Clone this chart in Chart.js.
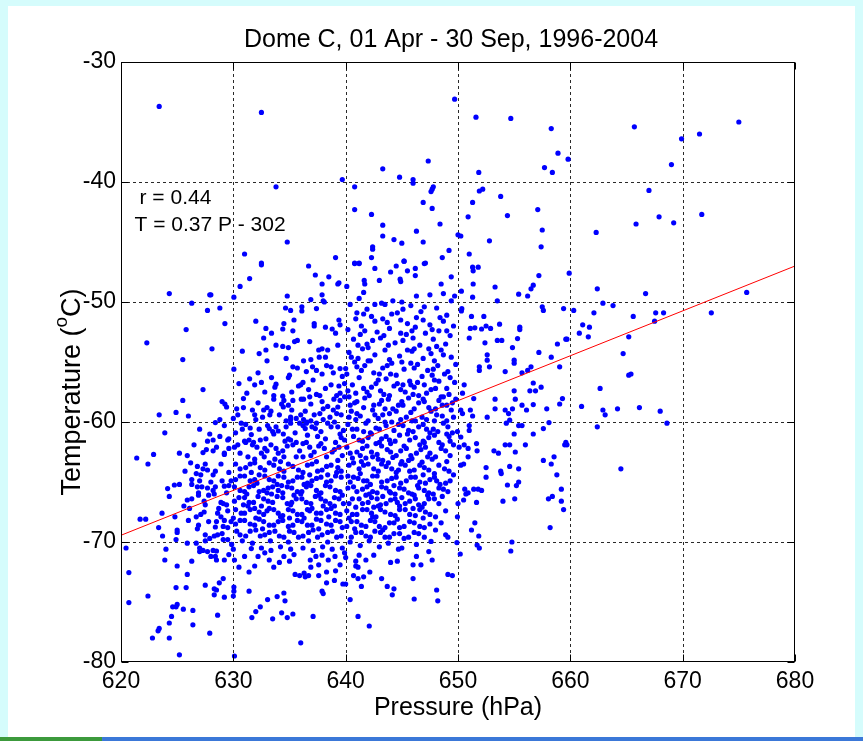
<!DOCTYPE html>
<html><head><meta charset="utf-8">
<script src="https://cdn.jsdelivr.net/npm/chart.js@4.4.1/dist/chart.umd.min.js"></script>
<style>html,body{margin:0;padding:0;background:#d5fcfc;}canvas{display:block;}</style>
</head><body>
<canvas id="c" width="863" height="741"></canvas>
<script>
// ---------- DATA ----------
const chartTitle = 'Dome C, 01 Apr - 30 Sep, 1996-2004';
const xAxisTitle = 'Pressure (hPa)';
const yAxisTitle = ['Temperature (', 'o', 'C)'];
const xTicks = [620, 630, 640, 650, 660, 670, 680];
const yTicks = [-80, -70, -60, -50, -40, -30];
const fitSlope = 0.374, fitIntercept = -301.32, fitRange = [620, 680];
const statLabels = ['r = 0.44', 'T = 0.37 P - 302'];

// [pressure hPa, temperature °C]
const outerPoints = [[623.4,-33.7],[632.5,-34.2],[633.8,-40.4],[639.7,-39.8],[634.8,-45.0],[631.0,-46.0],[639.1,-46.3],[632.5,-46.75],
[649.7,-33.1],[651.6,-34.6],[654.7,-34.7],[658.3,-35.55],[658.9,-37.6],[659.8,-38.1],[657.7,-38.8],[658.4,-39.2],[651.85,-39.2],[647.35,-38.25],[643.3,-38.9],[644.8,-39.6],[646.0,-39.8],[646.0,-40.1],[640.8,-40.4],[647.8,-40.4],[647.7,-40.6],[647.6,-40.8],[646.9,-41.7],[647.7,-42.2],[640.8,-42.3],[642.3,-42.7],[643.3,-43.6],[648.4,-43.5],[646.3,-44.1],[643.3,-44.5],[644.3,-44.8],[645.0,-45.1],[646.9,-45.0],[642.4,-45.4],[642.4,-45.6],[642.3,-46.3],[649.2,-45.7],[648.6,-46.3],[645.2,-46.6],[640.8,-46.75],[641.2,-46.75],[647.1,-46.75],[650.0,-44.4],[650.25,-44.5],[651.3,-41.7],[651.9,-40.75],[652.2,-40.6],[653.8,-41.2],[650.9,-42.9],[654.4,-42.8],[652.8,-44.9],[651.0,-46.0],[657.1,-42.3],[657.5,-44.0],[657.4,-45.4],
[665.7,-35.4],[669.0,-38.55],[669.9,-36.4],[671.5,-36.0],[675.0,-35.0],[667.0,-40.7],[662.3,-44.2],[665.85,-43.5],[667.9,-42.9],[669.2,-43.4],[671.7,-42.7]];

const rightPoints = [[659.9,-47.6],[662.4,-48.9],[666.7,-49.3],[675.7,-49.2],[672.55,-50.9],[662.9,-50.1],[663.8,-50.3],[660.3,-50.7],[662.1,-50.9],[667.6,-50.9],[668.3,-50.9],[667.5,-51.6],[665.6,-51.2],[661.1,-51.9],[661.7,-52.1],[660.8,-52.6],[661.6,-52.9],[659.7,-53.1],[665.2,-52.9],[664.7,-54.3],[665.2,-56.1],[665.4,-56.0],[662.65,-57.2],[661.0,-58.7],[662.9,-59.0],[663.1,-59.4],[664.2,-58.9],[666.15,-58.8],[668.0,-59.1],[668.6,-60.1],[662.4,-60.4],[659.7,-61.9],[664.5,-63.9],
[650.34,-50.56],[650.3,-50.75],[651.2,-51.2],[652.3,-51.2],[651.1,-52.2],[651.5,-52.15],[652.1,-52.25],[652.5,-52.0],[653.7,-51.85],[652.9,-52.2],[651.0,-53.0],[652.4,-53.4],[653.5,-53.2],[653.9,-53.2],[655.5,-52.1],[655.5,-52.3],[655.3,-53.05],[657.5,-50.4],[657.6,-50.7],[659.4,-50.55],[658.85,-53.5],[659.6,-53.1],[654.85,-53.8],[652.6,-54.4],[652.6,-54.85],[651.9,-55.4],[651.9,-55.7],[652.8,-55.4],[654.2,-55.8],[655.0,-54.85],[655.0,-55.1],[657.2,-54.2],[658.3,-54.6],[656.5,-55.4],[655.7,-55.9],[656.2,-55.7],[659.05,-55.4],[650.55,-56.9],[650.4,-57.6],[651.4,-58.05],[655.0,-57.4],[655.1,-58.1],[656.7,-56.75],[656.9,-57.4],[656.4,-57.4],[657.4,-57.1],[659.3,-58.05],[659.05,-58.5],[653.3,-58.1],[653.3,-58.9],[654.2,-59.0],[654.5,-59.3],[654.6,-59.85],[654.3,-60.1],[654.85,-58.9],[655.7,-58.6],[656.1,-59.0],[657.9,-58.9],[656.7,-58.55],[652.6,-59.6],[651.1,-59.0],[651.3,-59.5],[650.25,-59.0],[650.4,-59.3],[651.0,-60.3],[651.0,-60.7],[649.95,-60.8],[650.25,-61.25],[650.55,-61.9],[650.9,-62.2],[651.65,-61.8],[651.7,-62.4],[650.9,-62.9],[653.2,-62.4],[653.6,-62.6],[654.2,-61.9],[654.6,-61.9],[655.0,-61.0],[655.4,-60.3],[655.7,-60.3],[656.0,-61.9],[656.7,-61.0],[657.6,-60.55],[658.1,-60.05],[658.55,-62.9],[659.6,-61.7],[659.5,-61.9],[657.6,-63.2],[655.1,-62.5],[650.1,-62.1],
[640.8,-46.8],[641.2,-46.8],[642.6,-47.2],[644.5,-47.0],[645.2,-46.6],[644.0,-47.5],[645.5,-47.4],[646.2,-47.2],[646.2,-47.8],[647.0,-46.8],[641.65,-48.2],[641.7,-48.5],[643.0,-48.2],[644.85,-48.1],[644.9,-48.3],[640.1,-48.7],[641.6,-49.2],[641.2,-49.7],[647.5,-49.4],[648.5,-48.5],[648.7,-49.3],[649.4,-47.9],[649.4,-49.9],[649.7,-49.5],[650.3,-49.1],[651.3,-47.1],[651.8,-47.1],[651.35,-47.4],[651.35,-48.5],[651.3,-49.6],[653.3,-48.75],[653.5,-49.9],[655.4,-49.35],[656.2,-49.5],[656.5,-48.9],[656.7,-48.6],[657.2,-47.8],[644.2,-49.9],[645.0,-50.0],[642.6,-50.2],[643.5,-50.2],[646.3,-49.5]];

const lowerRightPoints = [[650.25,-63.6],[650.5,-63.5],[652.5,-63.8],[652.5,-64.6],[653.8,-64.1],[653.85,-64.3],[654.6,-63.7],[655.4,-63.9],[658.3,-63.5],[658.8,-64.4],[654.4,-65.25],[655.2,-65.3],[655.4,-65.0],[659.2,-65.6],[658.4,-66.2],[658.05,-66.4],[659.2,-66.6],[659.4,-67.3],[655.05,-66.4],[654.0,-66.6],[658.2,-68.8],[650.6,-65.6],[650.7,-66.0],[650.5,-66.5],[650.9,-65.9],[651.4,-65.6],[651.8,-65.6],[652.1,-65.7],[651.65,-66.7],[650.0,-66.8],[649.95,-67.9],[651.5,-68.4],[651.2,-69.0],[651.85,-69.5],[651.7,-70.25],[651.9,-70.5],[654.8,-70.0],[654.7,-70.75],[650.2,-71.0],[649.9,-70.05],
[640.0,-71.3],[640.9,-71.6],[641.2,-71.1],[641.8,-71.5],[642.5,-71.1],[640.9,-72.0],[641.1,-72.1],[642.15,-72.5],[640.7,-72.8],[641.1,-73.05],[641.6,-72.9],[641.4,-73.7],[640.0,-73.5],[640.4,-74.8],[641.1,-76.2],[642.1,-77.0],[643.2,-73.05],[643.7,-73.7],[644.3,-73.9],[644.15,-74.4],[644.0,-71.7],[644.6,-71.6],[646.3,-71.2],[646.0,-71.9],[646.7,-71.9],[646.0,-73.05],[646.1,-74.75],[644.7,-70.6],[647.4,-70.8],[647.7,-71.5],[648.1,-74.0],[648.2,-74.9],[649.1,-72.7],[649.5,-72.8],[648.9,-69.4],[649.1,-69.6]];

const lowerLeftPoints = [[620.45,-70.5],[620.7,-72.55],[620.7,-75.05],[622.4,-74.5],[622.8,-78.0],[623.3,-77.4],[623.4,-77.2],[624.3,-78.0],[624.3,-76.75],[624.5,-76.2],[624.6,-75.4],[624.9,-75.4],[625.0,-75.2],[625.2,-79.4],[623.9,-71.5],[624.0,-70.6],[625.0,-72.0],[624.9,-73.8],[625.8,-73.8],[625.9,-72.7],[625.55,-75.6],[626.4,-75.7],[626.4,-76.9],[625.9,-70.1],[626.3,-71.6],[627.9,-77.6],[628.6,-76.1],[627.5,-73.6],[628.3,-73.9],[628.3,-74.4],[628.5,-74.0],[628.75,-73.4],[629.2,-74.6],[629.1,-73.05],[630.0,-74.5],[630.05,-73.75],[630.05,-74.1],[630.1,-79.5],[631.4,-74.1],[632.4,-75.4],[632.0,-75.8],[631.65,-76.3],[633.05,-74.8],[633.5,-76.4],[633.9,-74.55],[634.3,-75.9],[634.5,-74.25],[634.6,-74.9],[634.8,-76.3],[635.3,-76.0],[636.0,-78.4],[637.1,-76.2],[637.9,-74.1],[638.0,-74.3],[638.3,-73.4],[639.0,-73.2],[636.9,-72.1],[637.6,-71.9],[637.6,-72.8],[636.7,-72.8],[638.3,-72.5],[639.1,-72.4],[639.75,-73.5],[635.9,-72.8],[636.4,-72.9],[635.5,-72.7],[629.2,-71.5],[627.3,-70.7],[627.7,-70.8],[628.4,-71.2],[628.5,-71.5],[628.5,-70.75],[629.6,-71.05],[630.0,-70.6],[629.85,-70.2],[629.5,-69.8],[629.1,-69.8],[628.3,-69.5],[628.6,-69.4],[627.5,-69.4],[627.0,-70.5],[624.9,-69.8],[625.0,-69.0],[625.0,-69.2],[623.7,-69.5],[623.35,-68.8],[621.7,-68.1],[622.2,-68.1],[623.65,-67.6],[624.8,-67.9],[624.15,-65.55],[624.3,-66.2],[624.75,-65.25],[625.2,-65.2],[622.4,-63.5],[626.3,-65.2],[626.3,-64.8],[625.9,-66.5],[626.3,-66.4],[626.7,-67.9],[626.8,-68.9],[626.9,-68.6],[627.4,-67.5],[627.8,-68.3],[628.4,-68.75],[628.5,-68.3],[628.6,-67.6],[629.1,-66.8],[628.9,-66.7],[629.2,-68.2],[629.8,-68.3],[630.0,-68.0],[627.4,-66.6],[627.5,-66.9],[626.9,-65.9],[626.9,-66.1],[626.8,-65.4],[627.2,-65.4],[627.0,-64.9],[627.1,-64.4],[626.8,-63.7],[627.5,-63.5],[627.8,-66.1],[627.7,-65.5],[628.2,-64.4],[628.4,-64.1],[628.4,-65.4],[629.2,-65.35],[629.6,-65.3],[628.7,-67.2],[626.7,-64.3],[627.7,-64.0],[628.2,-65.7],[628.3,-66.0],[629.0,-64.9],[629.8,-64.9],[629.4,-66.9],[629.5,-67.4],[629.1,-68.7],[629.0,-69.3],[628.2,-70.7],[628.0,-71.2],[627.0,-70.8],[627.5,-69.9],[626.7,-70.1],
[630.1,-71.5],[630.5,-72.1],[631.0,-71.2],[631.4,-72.5],[631.9,-72.0],[632.2,-71.2],[632.8,-70.9],[633.2,-71.5],[633.6,-72.1],[634.1,-71.7],[634.5,-71.2],[635.0,-71.6],[635.4,-71.05],[636.3,-72.6],[636.85,-71.5],[637.35,-71.2],[637.9,-71.1],[638.45,-71.5],[639.05,-71.2],[639.5,-71.9],[639.9,-70.9],[631.6,-70.55],[632.5,-70.5],[633.35,-70.7],[634.2,-70.4],[635.1,-70.6],[636.2,-70.5],[637.1,-70.7],[637.95,-70.4],[638.8,-70.6],[639.7,-70.5]];

const upperLeftPoints = [[632.5,-46.9],[636.7,-47.0],[637.3,-47.75],[638.5,-47.9],[639.3,-48.5],[639.4,-48.4],[637.9,-48.5],[631.45,-48.05],[630.6,-48.7],[624.3,-49.3],[627.9,-49.4],[628.0,-49.4],[630.05,-49.6],[634.8,-49.5],[637.9,-49.4],[638.0,-49.9],[638.1,-50.0],[636.9,-49.8],[626.3,-50.1],[627.7,-50.7],[628.8,-50.5],[634.65,-50.5],[635.1,-50.7],[636.1,-50.4],[636.1,-50.75],[637.4,-50.55],[629.25,-51.8],[625.8,-52.3],[632.0,-51.6],[635.4,-51.5],[637.2,-51.8],[637.2,-52.0],[634.5,-51.8],[639.4,-51.5],[639.5,-51.9],[638.2,-52.1],[638.8,-52.25],[639.1,-52.6],[632.9,-52.2],[633.4,-52.6],[634.4,-52.25],[635.3,-52.4],[632.7,-53.0],[622.3,-53.4],[628.1,-53.9],[630.8,-54.1],[633.8,-53.6],[634.4,-53.7],[634.9,-53.8],[635.45,-53.3],[635.7,-53.2],[636.8,-53.3],[632.9,-54.0],[632.3,-54.3],[637.6,-54.0],[637.9,-53.9],[638.4,-54.0],[639.3,-53.6],[625.5,-54.8],[633.0,-54.9],[634.7,-54.7],[636.25,-54.9],[636.9,-54.8],[637.65,-54.6],[638.2,-54.6],[635.3,-55.4],[635.7,-55.5],[637.05,-55.4],[637.4,-55.7],[638.3,-55.3],[638.7,-55.4],[639.5,-55.55],[640.0,-55.55],[630.05,-55.6],[632.2,-55.9],[636.5,-55.8],[631.45,-56.4],[632.5,-56.7],[631.9,-56.9],[633.8,-56.85],[633.7,-57.1],[636.2,-56.7],[635.8,-57.0],[636.0,-56.9],[637.1,-56.5],[638.7,-56.9],[639.4,-57.0],[639.9,-56.8],[639.7,-56.2],[627.3,-57.3],[631.2,-57.6],[630.9,-58.05],[634.4,-57.85],[634.5,-58.2],[634.3,-58.5],[633.6,-57.8],[633.6,-58.1],[635.2,-57.5],[635.3,-58.2],[636.05,-58.1],[636.25,-58.1],[636.8,-57.9],[637.4,-57.7],[637.7,-57.8],[638.95,-58.1],[639.2,-57.8],[639.5,-57.6],[639.9,-57.9],[625.5,-58.2],[629.0,-58.3],[629.25,-58.5],[629.4,-58.75],[623.4,-59.4],[624.9,-59.2],[626.0,-59.5],[630.9,-58.8],[631.7,-59.0],[631.9,-59.4],[632.7,-59.0],[633.35,-59.1],[633.25,-59.4],[634.45,-58.75],[635.2,-59.0],[635.6,-59.7],[635.1,-59.6],[636.0,-59.4],[636.25,-59.8],[636.5,-60.1],[637.2,-59.4],[637.7,-59.3],[638.4,-58.7],[639.3,-58.75],[639.5,-58.2],[639.2,-59.3],[639.6,-59.4],[628.4,-60.05],[628.8,-59.8],[629.2,-60.3],[623.9,-60.9],[627.0,-60.6],[630.0,-59.7],[630.4,-59.4],[630.7,-60.1],[631.1,-60.2],[631.6,-61.05],[632.3,-60.6],[632.4,-61.5],[631.8,-61.7],[633.05,-60.3],[633.2,-60.55],[633.8,-60.4],[634.0,-60.75],[633.6,-61.0],[634.45,-61.0],[634.7,-60.4],[635.1,-59.8],[635.1,-60.1],[635.9,-60.1],[636.2,-60.3],[636.4,-60.55],[636.55,-60.0],[637.4,-60.1],[637.3,-60.55],[638.4,-60.1],[639.0,-60.0],[639.3,-60.4],[639.5,-61.0],[631.0,-61.6],[631.1,-61.7],[630.4,-61.9],[630.1,-62.1],[629.6,-61.4],[629.5,-61.5],[627.7,-61.6],[627.3,-62.55],[627.6,-62.3],[628.2,-62.4],[628.5,-62.1],[629.2,-62.7],[621.4,-63.0],[622.9,-62.7],[625.2,-62.6],[625.9,-62.8],[633.35,-61.9],[633.8,-62.2],[634.0,-62.6],[634.4,-62.4],[634.5,-62.9],[635.1,-61.5],[635.3,-61.9],[635.6,-61.7],[635.9,-62.4],[636.2,-62.9],[636.5,-61.7],[636.8,-62.1],[636.9,-62.8],[637.5,-61.2],[637.8,-61.8],[638.1,-62.2],[638.3,-62.9],[638.7,-60.4],[639.1,-61.7],[639.4,-62.1],[639.7,-62.8],[631.4,-61.5],[631.7,-61.9],[632.1,-62.1],[632.5,-62.6],[632.75,-62.9],[628.2,-61.5],[629.2,-62.6]];

const coreUpperPoints = [[640.4,-50.2],[641.9,-50.6],[643.2,-50.1],[644.6,-50.9],[645.8,-50.3],[646.7,-50.8],[648.1,-50.5],[649.0,-51.1],
[640.9,-51.4],[642.3,-51.2],[643.7,-51.7],[644.9,-51.5],[646.3,-51.3],[647.5,-51.9],[648.7,-51.6],[649.6,-52.0],
[640.2,-52.3],[641.4,-52.0],[642.8,-52.5],[643.9,-52.2],[645.4,-52.7],[646.2,-52.1],[647.1,-52.6],[648.3,-52.4],[649.3,-52.8],
[640.7,-53.1],[641.9,-53.5],[643.1,-53.0],[644.4,-53.4],[645.1,-53.2],[646.6,-53.6],[647.8,-53.1],[648.9,-53.5],
[640.3,-54.2],[641.5,-53.9],[642.6,-54.4],[643.5,-54.0],[644.8,-54.5],[645.9,-54.1],[646.9,-54.7],[647.6,-54.3],[648.5,-54.0],[649.4,-54.6],
[640.8,-55.0],[641.7,-55.3],[642.2,-54.9],[643.3,-55.5],[644.1,-55.1],[645.2,-55.6],[646.4,-55.2],[647.3,-55.7],[648.2,-55.3],[649.1,-55.8],
[640.1,-56.0],[641.2,-56.3],[642.5,-55.9],[643.6,-56.4],[644.5,-56.1],[645.7,-56.6],[646.8,-56.2],[647.9,-56.5],[648.8,-56.0],[649.7,-56.7],
[640.6,-56.9],[641.6,-57.2],[642.7,-56.8],[643.1,-57.4],[644.3,-57.0],[645.3,-57.5],[646.1,-57.1],[647.2,-57.6],[648.0,-57.2],[649.2,-57.7],
[640.3,-57.9],[641.0,-58.3],[642.1,-57.8],[643.0,-58.5],[643.8,-58.1],[644.7,-58.6],[645.6,-58.0],[646.5,-58.4],[647.4,-58.8],[648.3,-58.2],[649.0,-58.6],[649.8,-58.1],
[640.5,-59.1],[641.3,-59.5],[642.4,-59.0],[642.9,-59.7],[643.9,-59.3],[644.9,-59.8],[645.8,-59.2],[646.8,-59.6],[647.6,-59.1],[648.6,-59.5],[649.4,-59.0],
[640.2,-60.2],[641.0,-60.6],[641.8,-60.1],[642.7,-60.5],[643.5,-60.0],[644.3,-60.7],[645.1,-60.3],[646.0,-60.8],[646.9,-60.2],[647.8,-60.6],[648.7,-60.1],[649.5,-60.9],
[640.7,-61.2],[641.5,-61.6],[642.3,-61.0],[643.2,-61.4],[644.0,-61.8],[644.8,-61.1],[645.7,-61.5],[646.6,-61.9],[647.4,-61.3],[648.3,-61.7],[649.2,-61.2],
[640.1,-62.1],[641.0,-62.5],[641.9,-62.0],[642.8,-62.7],[643.7,-62.3],[644.5,-62.8],[645.4,-62.2],[646.3,-62.6],[647.1,-62.1],[648.0,-62.9],[648.9,-62.4],
[640.6,-63.0],[641.4,-63.3],[642.4,-62.9],[643.3,-63.2],[644.2,-62.95],[645.0,-63.3],[645.9,-63.05],[646.8,-63.35],[647.7,-63.1],
[641.1,-54.7],[643.0,-56.0],[645.5,-54.0],[647.0,-56.9],[644.2,-58.9],[642.0,-61.3],[646.2,-59.9],[648.5,-57.9],[641.7,-58.0],[643.6,-60.3],[645.2,-62.0],[647.5,-60.9],[649.3,-61.6],[640.9,-59.8],[642.9,-63.1],[646.5,-57.8],[644.6,-56.8],[648.1,-53.7],[642.0,-53.8],[640.4,-58.6],
[641.0,-50.9],[642.6,-51.6],[644.1,-51.0],[645.5,-51.8],[647.0,-50.4],[648.4,-51.3],[641.3,-52.7],[642.4,-53.2],[644.9,-52.6],[646.0,-53.0],[647.4,-53.9],[649.0,-52.4],[640.5,-54.6],[642.0,-54.9],[643.9,-54.8],[645.0,-55.0],[646.1,-55.5],[647.9,-54.9],[649.8,-55.2],[641.4,-55.7],[642.9,-56.5],[644.0,-56.0],[645.1,-56.9],[646.4,-56.7],[648.3,-56.6],[649.3,-56.3],[640.2,-57.4],[641.9,-57.5],[643.4,-57.7],[644.9,-57.3],[646.0,-57.7],[647.6,-57.3],[648.7,-57.9],[640.8,-58.4],[642.5,-58.6],[643.5,-58.9],[645.1,-58.6],[646.1,-58.9],[647.0,-58.3],[648.0,-58.9],[649.5,-58.4],[641.0,-59.3],[642.0,-59.9],[643.3,-59.4],[644.5,-59.1],[645.4,-59.6],[647.2,-59.8],[648.1,-59.4],[649.0,-59.9],[640.6,-60.6],[642.2,-60.9],[643.0,-60.6],[644.7,-60.2],[645.6,-60.7],[646.5,-60.4],[648.2,-60.8],[649.1,-60.4],[641.2,-61.5],[642.7,-61.8],[643.6,-61.2],[644.4,-61.6],[646.2,-61.3],[647.0,-61.7],[647.9,-61.1],[649.6,-61.9],[640.4,-62.6],[641.5,-62.2],[642.3,-62.5],[643.2,-62.0],[644.0,-62.5],[645.8,-62.8],[646.7,-62.3],[647.5,-62.6],[648.5,-62.2],[649.3,-62.8]];

const coreLowerMidPoints = [[640.3,-63.6],[641.2,-63.9],[642.0,-63.5],[642.9,-64.1],[643.6,-63.7],[644.5,-64.2],[645.3,-63.6],[646.1,-64.0],[647.0,-63.8],[647.9,-64.3],[648.8,-63.9],[649.6,-64.4],
[640.7,-64.6],[641.6,-64.9],[642.4,-64.5],[643.2,-65.0],[644.1,-64.7],[644.9,-65.1],[645.8,-64.6],[646.6,-65.0],[647.5,-64.8],[648.4,-65.2],[649.3,-64.9],
[640.2,-65.5],[641.0,-65.8],[641.9,-65.4],[642.8,-65.9],[643.6,-65.5],[644.4,-66.0],[645.2,-65.6],[646.1,-66.1],[647.0,-65.7],[647.8,-66.0],[648.7,-65.6],
[640.6,-66.4],[641.5,-66.8],[642.3,-66.3],[643.1,-66.9],[644.0,-66.5],[644.8,-67.0],[645.7,-66.6],[646.5,-66.9],[647.4,-66.4],[648.3,-66.8],
[640.1,-67.4],[641.0,-67.7],[641.9,-67.3],[642.7,-67.9],[643.5,-67.5],[644.4,-67.8],[645.3,-67.3],[646.2,-67.8],[647.1,-67.5],[648.0,-67.9],[648.9,-67.4],
[640.5,-68.3],[641.4,-68.6],[642.2,-68.2],[643.0,-68.7],[643.9,-68.4],[644.8,-68.8],[645.7,-68.3],[646.6,-68.7],[647.5,-68.5],
[640.9,-69.2],[641.8,-69.5],[642.6,-69.1],[643.5,-69.6],[644.3,-69.3],[645.2,-69.7],[646.1,-69.2],[647.0,-69.6],[648.0,-69.0],
[640.4,-70.0],[641.3,-70.3],[642.1,-69.9],[643.0,-70.4],[643.8,-70.1],[645.0,-70.5],[646.3,-70.2],[647.6,-69.95],
[641.3,-64.3],[643.9,-65.8],[646.0,-67.2],[642.5,-67.1],[645.0,-66.3],[647.3,-66.1],[640.8,-68.9],[643.3,-69.0],[648.5,-68.4],[644.7,-64.0],[646.9,-64.4],[642.1,-66.0],
[640.7,-63.4],[641.6,-63.6],[642.5,-63.9],[643.2,-63.5],[644.1,-63.9],[644.9,-63.5],[645.7,-64.1],[646.6,-63.6],[647.4,-64.0],[648.3,-63.6],[649.2,-64.1],[640.2,-64.5],[641.1,-64.7],[641.9,-64.9],[642.8,-64.5],[643.7,-64.9],[644.5,-64.6],[645.4,-64.9],[646.2,-64.6],[647.1,-65.1],[647.9,-64.6],[648.9,-65.1],[640.7,-65.4],[641.5,-65.6],[642.4,-65.8],[643.2,-65.4],[644.0,-65.9],[644.8,-65.5],[645.6,-65.9],[646.5,-65.5],[647.4,-65.9],[648.3,-65.5],[649.1,-65.8],[640.3,-66.8],[641.2,-66.4],[642.0,-66.7],[642.8,-66.4],[643.6,-66.8],[644.4,-66.4],[645.3,-66.8],[646.2,-66.4],[647.0,-66.8],[647.9,-66.4],[640.6,-67.7],[641.5,-67.3],[642.3,-67.6],[643.1,-67.3],[644.0,-67.7],[644.8,-67.3],[645.7,-67.7],[646.6,-67.3],[647.5,-67.7],[640.1,-68.7],[641.0,-68.3],[641.8,-68.7],[642.6,-68.3],[643.5,-68.8],[644.3,-68.4],[645.2,-68.7],[646.1,-68.4],[647.0,-68.8],[640.5,-69.6],[641.4,-69.2],[642.2,-69.6],[643.1,-69.2],[643.9,-69.6],[644.8,-69.3],[645.6,-69.6],[646.5,-69.3]];

const coreLowerLeftPoints = [[630.2,-63.5],[631.1,-63.8],[631.9,-63.4],[632.8,-64.0],[633.6,-63.6],[634.5,-64.1],[635.3,-63.7],[636.2,-64.2],[637.0,-63.5],[637.9,-64.0],[638.7,-63.6],[639.6,-64.1],
[630.6,-64.5],[631.5,-64.9],[632.3,-64.4],[633.2,-64.8],[634.0,-64.5],[634.9,-65.0],[635.7,-64.6],[636.6,-65.1],[637.4,-64.7],[638.3,-65.0],[639.1,-64.5],
[630.1,-65.4],[631.0,-65.8],[631.8,-65.3],[632.7,-65.7],[633.5,-65.4],[634.4,-65.9],[635.2,-65.5],[636.1,-65.8],[636.9,-65.3],[637.8,-65.9],[638.6,-65.4],[639.5,-65.8],
[630.5,-66.3],[631.4,-66.7],[632.2,-66.2],[633.1,-66.6],[633.9,-66.2],[634.8,-66.8],[635.6,-66.4],[636.5,-66.7],[637.3,-66.2],[638.2,-66.6],[639.0,-66.3],[639.8,-66.8],
[630.2,-67.3],[631.0,-67.6],[631.9,-67.2],[632.7,-67.7],[633.6,-67.3],[634.4,-67.8],[635.3,-67.4],[636.1,-67.7],[637.0,-67.2],[637.8,-67.6],[638.7,-67.2],[639.5,-67.7],
[630.6,-68.2],[631.5,-68.5],[632.3,-68.1],[633.2,-68.6],[634.0,-68.3],[634.9,-68.7],[635.7,-68.2],[636.6,-68.6],[637.4,-68.1],[638.3,-68.5],[639.1,-68.2],
[630.3,-69.1],[631.1,-69.5],[632.0,-69.0],[632.8,-69.4],[633.7,-69.1],[634.5,-69.6],[635.4,-69.2],[636.2,-69.5],[637.1,-69.0],[637.9,-69.4],[638.8,-69.1],[639.6,-69.5],
[630.8,-69.9],[631.7,-70.1],[633.3,-69.9],[634.9,-70.0],[636.7,-69.9],[638.4,-70.0],
[631.6,-64.2],[633.9,-65.2],[636.0,-66.0],[638.0,-67.0],[632.5,-67.0],[635.0,-68.0],[637.6,-68.9],[633.0,-65.9],[639.3,-63.8],[634.2,-63.3],[636.8,-64.4],[630.9,-66.9],[639.7,-68.8],[632.6,-68.9],
[630.6,-63.9],[631.5,-63.5],[632.4,-63.8],[633.2,-63.4],[634.1,-63.9],[634.9,-63.5],[635.8,-64.0],[636.6,-63.6],[637.5,-64.1],[638.3,-63.7],[639.2,-64.2],[630.2,-64.8],[631.0,-64.5],[631.9,-64.8],[632.8,-64.5],[633.6,-64.9],[634.5,-64.6],[635.3,-64.9],[636.1,-64.6],[637.0,-64.9],[637.8,-64.6],[638.7,-64.9],[639.6,-64.6],[630.6,-65.7],[631.4,-65.4],[632.3,-65.8],[633.1,-65.5],[634.0,-65.7],[634.8,-65.4],[635.7,-65.8],[636.5,-65.4],[637.4,-65.7],[638.2,-65.3],[639.1,-65.7],[630.1,-66.6],[631.0,-66.3],[631.8,-66.7],[632.7,-66.4],[633.5,-66.7],[634.4,-66.3],[635.2,-66.7],[636.1,-66.4],[636.9,-66.8],[637.8,-66.4],[638.6,-66.8],[639.4,-66.4],[630.7,-67.6],[631.5,-67.3],[632.3,-67.5],[633.2,-67.2],[634.0,-67.6],[634.9,-67.3],[635.7,-67.7],[636.6,-67.3],[637.4,-67.6],[638.3,-67.3],[639.1,-67.6],[630.2,-68.5],[631.0,-68.2],[631.9,-68.6],[632.7,-68.3],[633.6,-68.6],[634.4,-68.2],[635.3,-68.6],[636.1,-68.3],[637.0,-68.6],[637.8,-68.2],[638.7,-68.6],[639.5,-68.3],[630.6,-69.4],[631.5,-69.1],[632.4,-69.5],[633.2,-69.2],[634.1,-69.5],[635.0,-69.1],[635.8,-69.6],[636.7,-69.2],[637.5,-69.6],[638.4,-69.2],[639.2,-69.6],
[630.5,-56.8],[632.8,-57.5],[634.9,-56.3],[637.9,-56.0],[638.9,-55.9],[630.3,-58.9],[632.2,-58.4],[636.9,-58.5],[638.0,-58.9],[630.8,-60.6],[632.0,-59.8],[634.1,-59.4],[636.9,-59.9],[638.0,-59.8],[638.9,-59.0],[630.2,-60.9],[632.9,-61.4],[634.9,-61.4],[636.6,-61.1],[638.2,-61.4],[639.8,-60.7],[630.6,-62.6],[631.3,-62.9],[633.0,-62.4],[634.8,-62.0],[637.2,-62.5],[638.8,-62.5],[639.9,-61.5],
[626.5,-61.9],[627.9,-61.0],[628.8,-61.2],[629.6,-62.2],[626.2,-63.4],[627.3,-63.9],[628.9,-63.5],[629.6,-64.2],[625.7,-64.1],[628.0,-65.0],[629.4,-65.9],[626.1,-67.2],[627.1,-67.7],[628.9,-67.9],[629.5,-68.8],[626.0,-68.2],[627.9,-69.7],[625.6,-67.0]];

const coreFillPoints = [[633.4,-56.3],[635.0,-56.1],[636.7,-57.3],[638.2,-57.2],[640.9,-57.6],[642.3,-57.1],[643.9,-57.8],[645.8,-56.9],[647.7,-56.1],[649.0,-57.2],
[633.0,-58.8],[634.9,-58.6],[636.4,-59.1],[637.9,-58.3],[641.6,-58.8],[643.2,-58.2],[645.0,-58.3],[646.9,-58.1],[648.6,-58.6],
[632.6,-59.6],[634.7,-59.9],[637.0,-60.4],[638.6,-59.6],[640.3,-59.6],[642.6,-59.4],[644.1,-60.0],[645.9,-59.9],[647.9,-59.9],[649.6,-59.6],
[631.5,-60.5],[633.5,-60.8],[635.5,-60.9],[637.8,-60.8],[639.6,-61.3],[641.6,-60.8],[643.9,-61.5],[645.5,-61.0],[647.2,-60.6],[649.0,-61.0],
[632.8,-62.2],[634.6,-61.6],[636.2,-61.8],[637.6,-62.0],[639.0,-62.3],[641.3,-62.8],[643.0,-61.7],[644.9,-62.4],[646.9,-61.6],[648.6,-61.9],
[631.9,-63.1],[633.7,-63.1],[635.6,-62.9],[637.4,-63.3],[639.3,-63.2],[641.8,-63.0],[643.8,-63.4],[645.6,-63.2],[647.3,-62.9],[649.0,-63.3],
[632.1,-65.1],[634.3,-65.3],[636.3,-65.2],[638.4,-64.4],[640.4,-65.0],[642.2,-65.2],[644.3,-65.3],[646.4,-65.3],[648.1,-64.9],
[631.2,-66.0],[633.4,-66.0],[635.4,-66.1],[637.6,-66.1],[639.7,-66.1],[641.8,-66.1],[643.3,-66.2],[645.9,-66.0],[648.6,-66.2],
[631.3,-67.0],[633.0,-67.4],[635.1,-66.9],[636.8,-67.4],[639.0,-67.0],[640.9,-67.1],[642.9,-67.0],[644.6,-66.7],[646.8,-67.1],
[632.0,-68.0],[634.2,-67.9],[636.3,-68.0],[638.5,-67.9],[640.3,-68.0],[642.4,-67.9],[644.6,-68.1],[646.9,-68.0],
[641.6,-51.0],[643.3,-51.4],[645.1,-50.6],[646.9,-51.5],[641.7,-52.4],[643.4,-52.8],[645.9,-52.4],[647.7,-52.3],[641.1,-53.6],[643.8,-53.6],[646.1,-53.9],[648.7,-54.4],[641.0,-55.4],[643.7,-55.3],[645.8,-55.1],[647.8,-55.6]];

const allPoints = [].concat(outerPoints, rightPoints, lowerRightPoints, lowerLeftPoints, upperLeftPoints, coreUpperPoints, coreLowerMidPoints, coreLowerLeftPoints, coreFillPoints);

// ---------- RENDER ----------
const FONT = "'Liberation Sans', Arial, Helvetica, sans-serif";

const bgPlugin = {
  id: 'bg',
  beforeDraw(chart) {
    const c = chart.ctx;
    c.save();
    c.fillStyle = '#d5fcfc';
    c.fillRect(0, 0, chart.width, chart.height);
    c.fillStyle = '#ffffff';
    c.fillRect(8, 6, 847, 731);
    c.fillStyle = '#3b78d8';
    c.fillRect(0, 737, chart.width, 4);
    c.fillStyle = '#3c9a3c';
    c.fillRect(0, 737, 102, 4);
    c.restore();
  }
};

const framePlugin = {
  id: 'frame',
  beforeDatasetsDraw(chart) {
    const c = chart.ctx, a = chart.chartArea, xs = chart.scales.x, ys = chart.scales.y;
    c.save();
    c.strokeStyle = '#2a2a2a';
    c.lineWidth = 1;
    c.setLineDash([3, 3]);
    c.beginPath();
    xTicks.slice(1, -1).forEach(v => {
      const px = Math.round(xs.getPixelForValue(v)) + 0.5;
      c.moveTo(px, a.top); c.lineTo(px, a.bottom);
    });
    yTicks.slice(1, -1).forEach(v => {
      const py = Math.round(ys.getPixelForValue(v)) + 0.5;
      c.moveTo(a.left, py); c.lineTo(a.right, py);
    });
    c.stroke();
    c.restore();
  },
  afterDatasetsDraw(chart) {
    const c = chart.ctx, a = chart.chartArea, xs = chart.scales.x, ys = chart.scales.y;
    const L = Math.round(a.left) + 0.5, R = Math.round(a.right) - 0.5, T = Math.round(a.top) + 0.5, B = Math.round(a.bottom) - 0.5;
    c.save();
    c.strokeStyle = '#000';
    c.lineWidth = 1;
    c.strokeRect(L, T, R - L, B - T);
    const tl = 7;
    c.beginPath();
    xTicks.forEach(v => {
      const px = Math.round(xs.getPixelForValue(v)) + 0.5;
      c.moveTo(px, B); c.lineTo(px, B - tl);
      c.moveTo(px, T); c.lineTo(px, T + tl);
    });
    yTicks.forEach(v => {
      const py = Math.round(ys.getPixelForValue(v)) + 0.5;
      c.moveTo(L, py); c.lineTo(L + tl, py);
      c.moveTo(R, py); c.lineTo(R - tl, py);
    });
    c.stroke();
    c.restore();
  },
  afterDraw(chart) {
    const c = chart.ctx, a = chart.chartArea, xs = chart.scales.x, ys = chart.scales.y;
    c.save();
    c.fillStyle = '#000';
    c.font = '25px ' + FONT;
    c.textAlign = 'center';
    c.textBaseline = 'alphabetic';
    c.fillText(chartTitle, 451, 47);
    c.fillText(xAxisTitle, (a.left + a.right) / 2, 715);
    c.save();
    c.translate(80, 392);
    c.rotate(-Math.PI / 2);
    c.textAlign = 'left';
    const big = '27px ' + FONT, small = '19px ' + FONT;
    c.font = big; const w1 = c.measureText(yAxisTitle[0]).width; const w3 = c.measureText(yAxisTitle[2]).width;
    c.font = small; const w2 = c.measureText(yAxisTitle[1]).width;
    const x0 = -(w1 + w2 + w3) / 2;
    c.font = big; c.fillText(yAxisTitle[0], x0, 0);
    c.font = small; c.fillText(yAxisTitle[1], x0 + w1, -13);
    c.font = big; c.fillText(yAxisTitle[2], x0 + w1 + w2, 0);
    c.restore();
    c.font = '21px ' + FONT;
    c.textAlign = 'left';
    c.fillText(statLabels[0], xs.getPixelForValue(621.65), ys.getPixelForValue(-41.86));
    c.fillText(statLabels[1], xs.getPixelForValue(621.2), ys.getPixelForValue(-44.08));
    c.restore();
  }
};

new Chart(document.getElementById('c').getContext('2d'), {
  type: 'scatter',
  data: {
    datasets: [
      {
        type: 'line',
        data: fitRange.map(p => ({ x: p, y: fitSlope * p + fitIntercept })),
        borderColor: '#ff0000', borderWidth: 1, pointRadius: 0, fill: false, order: 0
      },
      {
        data: allPoints.map(([p, t]) => ({ x: p, y: t })),
        pointRadius: 2.6, pointBackgroundColor: '#0000ff', pointBorderWidth: 0, borderWidth: 0, order: 1
      }
    ]
  },
  options: {
    responsive: false, animation: false, devicePixelRatio: 1,
    layout: { padding: { left: 8, right: 68, top: 62, bottom: 9 } },
    plugins: { legend: { display: false }, tooltip: { enabled: false }, title: { display: false } },
    scales: {
      x: {
        type: 'linear', min: xTicks[0], max: xTicks[xTicks.length - 1],
        afterBuildTicks: s => { s.ticks = xTicks.map(v => ({ value: v })); },
        afterFit: s => { s.height = 70; },
        grid: { display: false, drawTicks: false }, border: { display: false },
        ticks: { color: '#000', font: { family: FONT, size: 23 }, padding: 6, maxRotation: 0, autoSkip: false }
      },
      y: {
        type: 'linear', min: yTicks[0], max: yTicks[yTicks.length - 1],
        afterBuildTicks: s => { s.ticks = yTicks.map(v => ({ value: v })); },
        afterFit: s => { s.width = 113; },
        grid: { display: false, drawTicks: false }, border: { display: false },
        ticks: { color: '#000', font: { family: FONT, size: 23 }, padding: 5, autoSkip: false }
      }
    }
  },
  plugins: [bgPlugin, framePlugin]
});
</script>
</body></html>
